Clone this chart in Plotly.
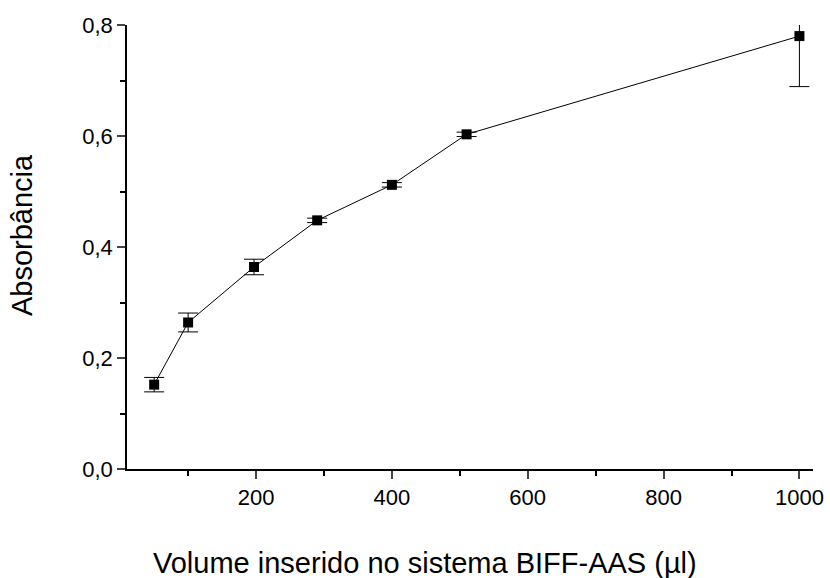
import plotly.graph_objects as go

volume = [50, 100, 197, 290, 400, 510, 1000]
absorb = [0.152, 0.264, 0.364, 0.448, 0.512, 0.603, 0.780]
err = [0.013, 0.017, 0.014, 0.004, 0.004, 0.004, 0.091]

x_ticks = [200, 400, 600, 800, 1000]
y_ticks = [0.0, 0.2, 0.4, 0.6, 0.8]
x_title = "Volume inserido no sistema BIFF-AAS (µl)"
y_title = "Absorbância"

fig = go.Figure()
fig.add_trace(go.Scatter(
    x=volume, y=absorb, mode="lines+markers",
    line=dict(color="black", width=1),
    marker=dict(symbol="square", size=10, color="black"),
    error_y=dict(type="data", array=err, visible=True, color="black", thickness=1, width=10),
    cliponaxis=True,
    showlegend=False,
))

font = "Liberation Sans, Arial, sans-serif"
fig.update_layout(
    width=830, height=578,
    margin=dict(l=127, r=17, t=25, b=109),
    paper_bgcolor="white", plot_bgcolor="white",
    separators=",.",
    font=dict(family=font, color="black", size=22),
    xaxis=dict(
        range=[10, 1020], tickvals=x_ticks, ticks="outside", ticklen=8, tickwidth=1.5,
        showline=True, linecolor="black", linewidth=1.5, showgrid=False, zeroline=False,
        tickfont=dict(size=22),
        minor=dict(tickvals=[100, 300, 500, 700, 900], ticks="outside", ticklen=5, tickwidth=1.5, tickcolor="black"),
        automargin=False,
    ),
    yaxis=dict(
        range=[0, 0.8], tickvals=y_ticks, tickformat=".1f", ticks="outside", ticklen=8, tickwidth=1.5,
        showline=True, linecolor="black", linewidth=1.5, showgrid=False, zeroline=False,
        tickfont=dict(size=22),
        minor=dict(tickvals=[0.1, 0.3, 0.5, 0.7], ticks="outside", ticklen=5, tickwidth=1.5, tickcolor="black"),
        automargin=False,
    ),
    annotations=[
        dict(text=x_title, xref="paper", yref="paper", x=0.4344, y=-0.2117,
             xanchor="center", yanchor="middle", showarrow=False, font=dict(size=29)),
        dict(text=y_title, xref="paper", yref="paper", x=-0.153, y=0.527, textangle=-90,
             xanchor="center", yanchor="middle", showarrow=False, font=dict(size=29)),
    ],
)

fig.write_html("out.html", config={"displayModeBar": False},
               post_script="document.body.style.margin='0';")
